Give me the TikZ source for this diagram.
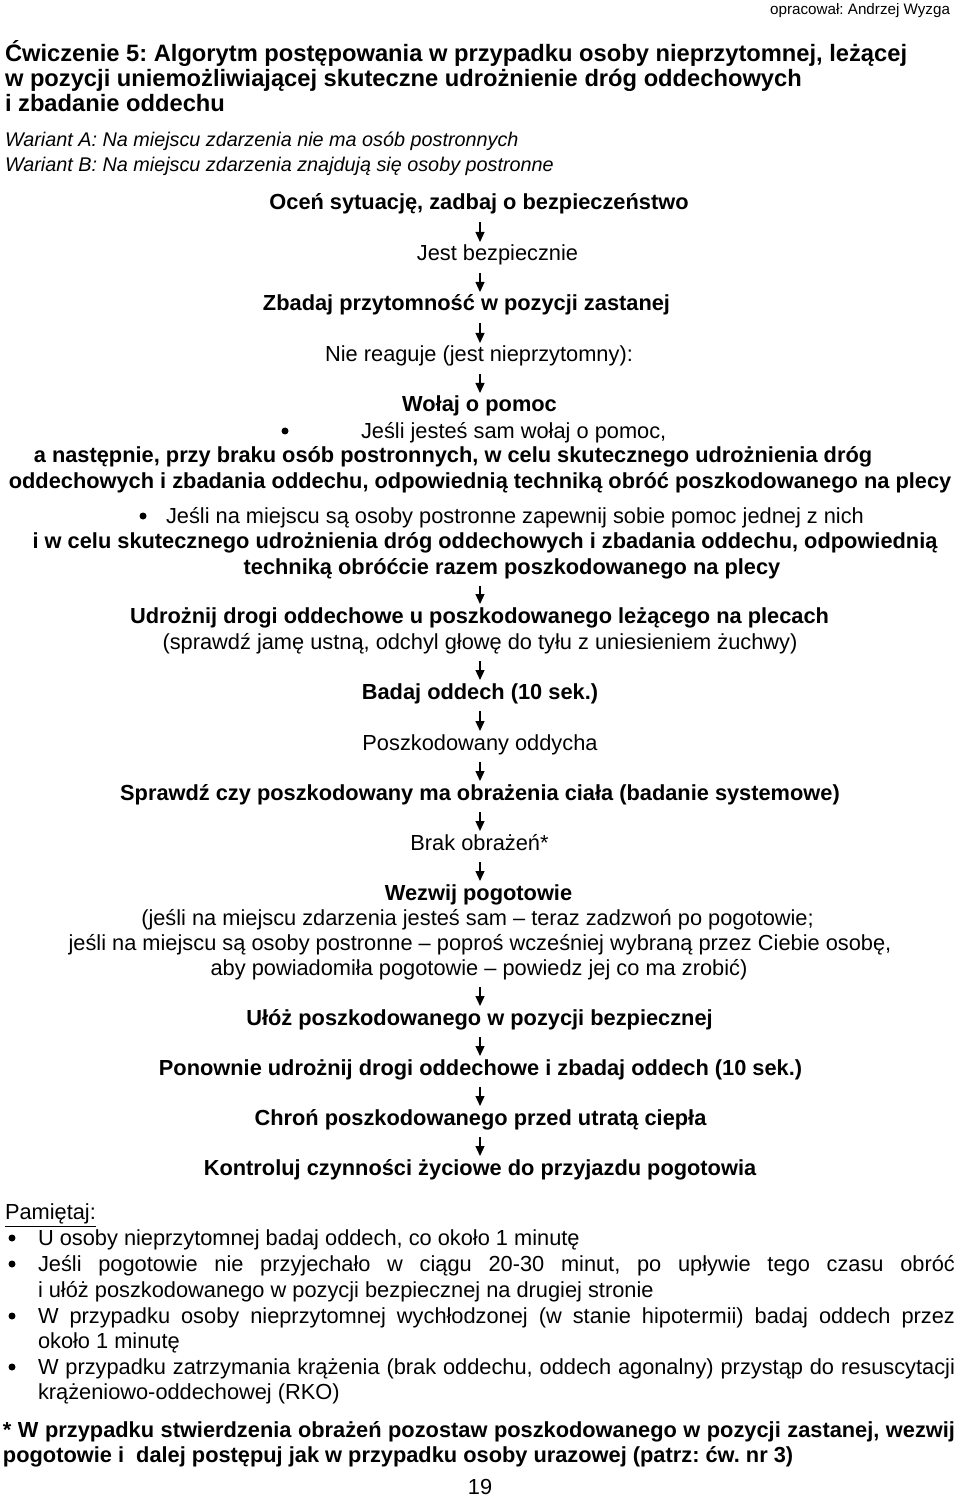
\documentclass[tikz,border=0pt]{standalone}
\usepackage{fontspec}
\setmainfont{Liberation Sans}
\usetikzlibrary{arrows.meta}
\frenchspacing

\begin{document}
\begin{tikzpicture}[x=0.5pt,y=-0.5pt, %one unit = one pixel of the page, y runs down
  every node/.style={inner sep=0pt,outer sep=0pt,text height=8pt,text depth=2pt,font=\fontsize{10.9}{12.5}\selectfont},
  ln/.style={anchor=base},
  lnw/.style={anchor=base west},
  bf/.style={font=\fontsize{10.9}{12.5}\selectfont\bfseries},
  tytul/.style={anchor=base west,font=\fontsize{11.85}{13}\selectfont\bfseries},
  dot/.style={circle,fill,minimum size=3.5pt,text height=0pt,text depth=0pt},
  flow/.style={-{Triangle[length=5pt,width=4.5pt]},line width=0.6pt,shorten <=4pt,shorten >=1.5pt}]
\useasboundingbox (0,0) rectangle (960,1497); %page size

%Header
\node[anchor=base east,font=\fontsize{7.6}{9}\selectfont] (autor) at (950,15) {opracował: Andrzej Wyzga};
\node[tytul] (tytulA) at (5,62) {Ćwiczenie 5: Algorytm postępowania w przypadku osoby nieprzytomnej, leżącej};
\node[tytul] (tytulB) at (5,86.5) {w pozycji uniemożliwiającej skuteczne udrożnienie dróg oddechowych};
\node[tytul] (tytulC) at (5,111.5) {i zbadanie oddechu};
\node[lnw,font=\fontsize{9.9}{12}\selectfont\itshape] (wariantA) at (5,147) {Wariant A: Na miejscu zdarzenia nie ma osób postronnych};
\node[lnw,font=\fontsize{9.9}{12}\selectfont\itshape] (wariantB) at (5,172) {Wariant B: Na miejscu zdarzenia znajdują się osoby postronne};

%Algorithm steps
\coordinate (axis) at (480,0);
\node[ln,bf] (ocen) at (479,210) {Oceń sytuację, zadbaj o bezpieczeństwo};
\node[ln] (jest) at (497.5,261) {Jest bezpiecznie};
\node[ln,bf] (zbadaj) at (466.5,311) {Zbadaj przytomność w pozycji zastanej};
\node[ln] (niereag) at (479,362) {Nie reaguje (jest nieprzytomny):};
\node[ln,bf] (wolaj) at (479.5,412) {Wołaj o pomoc};
\node[dot] (bulletA) at (285,431) {};
\node[lnw] (sam) at (361,438) {Jeśli jesteś sam wołaj o pomoc,};
\node[ln,bf] (nastepnie) at (453,463) {a następnie, przy braku osób postronnych, w celu skutecznego udrożnienia dróg};
\node[ln,bf] (obroc) at (480,488) {oddechowych i zbadania oddechu, odpowiednią techniką obróć poszkodowanego na plecy};
\node[dot] (bulletB) at (143,516) {};
\node[lnw] (zapewnij) at (166,523) {Jeśli na miejscu są osoby postronne zapewnij sobie pomoc jednej z nich};
\node[ln,bf] (wcelu) at (485,548) {i w celu skutecznego udrożnienia dróg oddechowych i zbadania oddechu, odpowiednią};
\node[ln,bf] (technika) at (512,574) {techniką obróćcie razem poszkodowanego na plecy};
\node[ln,bf] (udroznij) at (479.5,623) {Udrożnij drogi oddechowe u poszkodowanego leżącego na plecach};
\node[ln] (sprawdz) at (480,649) {(sprawdź jamę ustną, odchyl głowę do tyłu z uniesieniem żuchwy)};
\node[ln,bf] (badaj) at (480,699) {Badaj oddech (10 sek.)};
\node[ln] (oddycha) at (480,750) {Poszkodowany oddycha};
\node[ln,bf] (obrazenia) at (480,800) {Sprawdź czy poszkodowany ma obrażenia ciała (badanie systemowe)};
\node[ln] (brak) at (479.5,850) {Brak obrażeń*};
\node[ln,bf] (wezwij) at (478.5,900) {Wezwij pogotowie};
\node[ln] (wezwijA) at (477.5,925) {(jeśli na miejscu zdarzenia jesteś sam – teraz zadzwoń po pogotowie;};
\node[ln] (wezwijB) at (480,950) {jeśli na miejscu są osoby postronne – poproś wcześniej wybraną przez Ciebie osobę,};
\node[ln] (wezwijC) at (479,975) {aby powiadomiła pogotowie – powiedz jej co ma zrobić)};
\node[ln,bf] (uloz) at (479.5,1025) {Ułóż poszkodowanego w pozycji bezpiecznej};
\node[ln,bf] (ponownie) at (480.5,1075) {Ponownie udrożnij drogi oddechowe i zbadaj oddech (10 sek.)};
\node[ln,bf] (chron) at (480.5,1125) {Chroń poszkodowanego przed utratą ciepła};
\node[ln,bf] (kontroluj) at (480,1175) {Kontroluj czynności życiowe do przyjazdu pogotowia};

%Arrows between the steps
\foreach \a/\b in {ocen/jest,jest/zbadaj,zbadaj/niereag,niereag/wolaj,technika/udroznij,sprawdz/badaj,badaj/oddycha,oddycha/obrazenia,obrazenia/brak,brak/wezwij,wezwijC/uloz,uloz/ponownie,ponownie/chron,chron/kontroluj}
  \draw[flow] (\a.south -| axis) -- (\b.north -| axis);

%Remarks
\node[lnw] (pamietaj) at (5,1219) {\underline{Pamiętaj:}};
\node[dot] (dotA) at (12,1238) {};
\node[lnw] (uwagaA) at (38,1245) {U osoby nieprzytomnej badaj oddech, co około 1 minutę};
\node[dot] (dotB) at (12,1264) {};
\node[lnw] (uwagaB) at (38,1271) {\makebox[458.5pt][s]{Jeśli pogotowie nie przyjechało w ciągu 20-30 minut, po upływie tego czasu obróć}};
\node[lnw] (uwagaBb) at (38,1297) {i ułóż poszkodowanego w pozycji bezpiecznej na drugiej stronie};
\node[dot] (dotC) at (12,1316) {};
\node[lnw] (uwagaC) at (38,1323) {\makebox[458.5pt][s]{W przypadku osoby nieprzytomnej wychłodzonej (w stanie hipotermii) badaj oddech przez}};
\node[lnw] (uwagaCb) at (38,1348) {około 1 minutę};
\node[dot] (dotD) at (12,1367) {};
\node[lnw] (uwagaD) at (38,1374) {\makebox[458.5pt][s]{W przypadku zatrzymania krążenia (brak oddechu, oddech agonalny) przystąp do resuscytacji}};
\node[lnw] (uwagaDb) at (38,1399) {krążeniowo-oddechowej (RKO)};

%Footnote and page number
\node[lnw,bf] (przypisA) at (3,1437) {\makebox[476pt][s]{* W przypadku stwierdzenia obrażeń pozostaw poszkodowanego w pozycji zastanej, wezwij}};
\node[lnw,bf] (przypisB) at (3,1462) {pogotowie i\ \ dalej postępuj jak w przypadku osoby urazowej (patrz: ćw. nr 3)};
\node[ln] (strona) at (480,1494) {19};
\end{tikzpicture}
\end{document}
